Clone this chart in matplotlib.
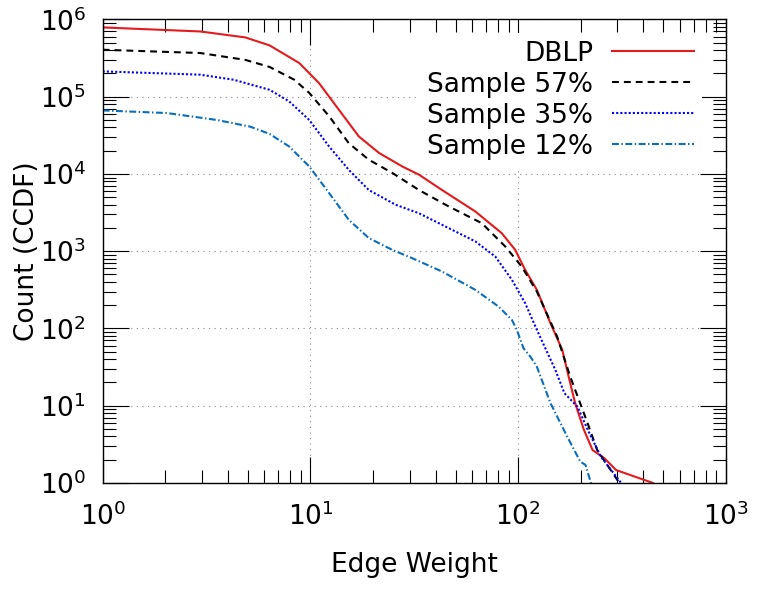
import matplotlib
matplotlib.use("Agg")
import matplotlib.pyplot as plt
import numpy as np
from matplotlib.ticker import LogLocator, NullFormatter, LogFormatterSciNotation

# edge weight CCDF
dblp_x = [1, 2.95, 4.86, 6.36, 8.84, 11.0, 13.7, 17.1, 21.4, 27.7, 33.3, 43, 62.2, 83.4,
          96.8, 108, 123, 143, 163, 178, 188, 207, 228, 260, 296, 445]
dblp_y = [7.9e5, 7.0e5, 5.86e5, 4.62e5, 2.73e5, 1.5e5, 6.8e4, 3.06e4, 1.87e4, 1.25e4,
          9.8e3, 6.2e3, 3.27e3, 1.71e3, 1.04e3, 574, 316, 117, 52.8, 19.6, 10.8, 4.9,
          2.67, 2.09, 1.47, 1.0]

s57_x = [1, 2.95, 4.86, 6.36, 8.36, 9.87, 12.3, 15.3, 19.1, 24.8, 33.3, 46.3, 66.8,
         86.7, 104, 123, 154, 178, 216, 240, 307]
s57_y = [4.06e5, 3.68e5, 3.0e5, 2.43e5, 1.66e5, 1.12e5, 5.6e4, 2.5e4, 1.53e4, 1.03e4,
         6.2e3, 3.8e3, 2.31e3, 1.15e3, 632, 300, 78.5, 23.8, 5.9, 2.67, 1.0]

s35_x = [1, 2.95, 4.27, 6.36, 7.9, 9.87, 12.3, 15.3, 19.1, 25.7, 33.3, 43, 62.2, 77.6,
         93.3, 108, 123, 151, 167, 193, 216, 250, 313]
s35_y = [2.13e5, 1.93e5, 1.66e5, 1.23e5, 8.7e4, 5.0e4, 2.27e4, 1.13e4, 6.2e3, 4.0e3,
         3.1e3, 2.2e3, 1.34e3, 853, 426, 213, 96, 29, 14.5, 9.7, 4.9, 2.19, 1.0]

s12_x = [1, 2.04, 3.55, 5.13, 6.36, 7.9, 9.87, 12.3, 15.3, 19.1, 24.8, 30.9, 43, 62.2,
         80.5, 93.3, 98.5, 106, 114.6, 123, 143, 172, 199, 211, 224]
s12_y = [6.65e4, 6.15e4, 5.0e4, 4.1e4, 3.3e4, 2.27e4, 1.25e4, 5.66e3, 2.55e3, 1.48e3,
         1.04e3, 813, 546, 316, 192, 129, 96, 55.6, 43, 32, 10.8, 4.0, 1.89, 1.71, 1.0]

SERIES = [
    ("DBLP", dblp_x, dblp_y, "#e41a1c", "-"),
    ("Sample 57%", s57_x, s57_y, "#000000", (0, (3.3, 2.4))),
    ("Sample 35%", s35_x, s35_y, "#0000ff", (0, (1.0, 1.0))),
    ("Sample 12%", s12_x, s12_y, "#0a6ebd", (0, (3.3, 1.2, 0.7, 1.2))),
]


def main():
    plt.rcParams.update({"font.family": "DejaVu Sans", "font.size": 19,
                         "mathtext.fontset": "dejavusans"})
    fig = plt.figure(figsize=(7.6, 5.89), dpi=100)
    ax = fig.add_axes([0.1351, 0.1800, 0.8201, 0.7869])

    for label, xs, ys, color, ls in SERIES:
        ax.plot(xs, ys, color=color, ls=ls, lw=1.5, label=label)

    ax.set_xscale("log")
    ax.set_yscale("log")
    ax.set_xlim(1, 1000)
    ax.set_ylim(1, 1e6)

    for axis in (ax.xaxis, ax.yaxis):
        axis.set_major_locator(LogLocator(base=10, numticks=100))
        axis.set_minor_locator(LogLocator(base=10, subs=np.arange(2, 10), numticks=100))
        axis.set_minor_formatter(NullFormatter())
        axis.set_major_formatter(LogFormatterSciNotation())

    ax.tick_params(which="both", direction="in", top=True, right=True, width=0.8, colors="black")
    ax.tick_params(which="major", length=19)
    ax.tick_params(which="minor", length=9.5)
    ax.tick_params(axis="x", which="major", pad=14)
    ax.tick_params(axis="y", which="major", pad=12)
    for sp in ax.spines.values():
        sp.set_linewidth(1.0)

    ax.grid(which="major", color="#888888", ls=(0, (1, 4)), lw=0.8)
    ax.set_axisbelow(True)

    ax.set_xlabel("Edge Weight")
    ax.set_ylabel("Count (CCDF)")
    ax.xaxis.set_label_coords(0.5, -0.149)
    ax.yaxis.set_label_coords(-0.101, 0.5)

    leg = ax.legend(loc="upper right", bbox_to_anchor=(0.982, 1.0), markerfirst=False,
                    handlelength=3.1, handletextpad=0.7, labelspacing=0.19,
                    borderpad=0.3, fancybox=False, framealpha=1.0, facecolor="white",
                    edgecolor="none", fontsize=19)
    leg.get_frame().set_linewidth(0)

    fig.savefig("out.png", dpi=100)
    plt.close(fig)


if __name__ == "__main__":
    main()
